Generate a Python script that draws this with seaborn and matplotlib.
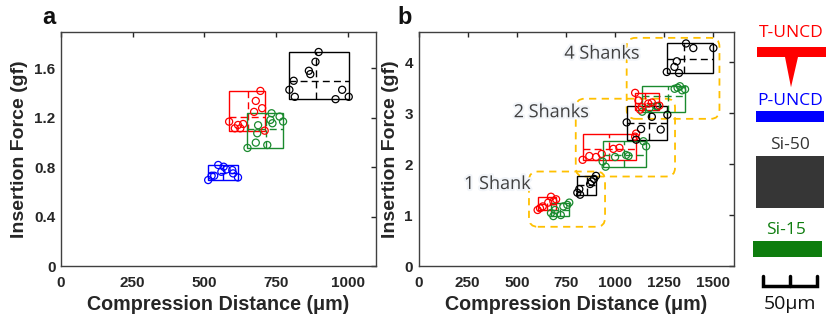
import numpy as np
import matplotlib
matplotlib.use("Agg")
import matplotlib.pyplot as plt
import seaborn as sns
from matplotlib.patches import Rectangle, FancyBboxPatch, Polygon
import matplotlib.patheffects as pe

sns.set_style("white")
plt.rcParams["font.family"] = ["Liberation Sans", "DejaVu Sans"]

# ---------------- colours ----------------
C_T = "#ff0000"      # T-UNCD
C_P = "#0000ff"      # P-UNCD
C_50 = "#000000"     # Si-50
C_15 = "#1a8a2e"     # Si-15
TXT = "#262626"

# ---------------- panel a data ----------------
a_tuncd_x = [586, 606, 617, 625, 635, 673, 679, 695, 701, 710]
a_tuncd_y = [1.169, 1.115, 1.142, 1.115, 1.150, 1.248, 1.337, 1.418, 1.278, 1.096]
a_puncd_x = [513, 525, 534, 548, 559, 567, 577, 597, 600, 617]
a_puncd_y = [0.696, 0.731, 0.731, 0.818, 0.763, 0.804, 0.782, 0.777, 0.750, 0.717]
a_si50_x = [796, 811, 815, 864, 869, 887, 898, 957, 980, 1003]
a_si50_y = [1.427, 1.500, 1.370, 1.581, 1.554, 1.654, 1.733, 1.351, 1.427, 1.370]
a_si15_x = [650, 679, 684, 687, 719, 730, 734, 737, 762, 774]
a_si15_y = [0.956, 0.999, 1.075, 1.140, 0.980, 1.183, 1.237, 1.156, 1.210, 1.170]

# ---------------- panel b data ----------------
# 1 shank
b1_tuncd_x = [606, 618, 632, 660, 674, 686, 700]
b1_tuncd_y = [1.10, 1.135, 1.17, 1.245, 1.36, 1.27, 1.31]
b1_si15_x = [674, 686, 695, 724, 737, 757, 767]
b1_si15_y = [1.04, 0.98, 1.10, 1.00, 1.17, 1.20, 1.245]
b1_si50_x = [808, 822, 818, 873, 881, 893, 903]
b1_si50_y = [1.44, 1.40, 1.51, 1.61, 1.66, 1.71, 1.77]
# 2 shanks
b2_tuncd_x = [835, 869, 903, 932, 991, 1022, 1102, 1107]
b2_tuncd_y = [2.085, 2.16, 2.14, 2.20, 2.30, 2.32, 2.54, 2.60]
b2_si15_x = [937, 952, 1000, 1056, 1068, 1144, 1158]
b2_si15_y = [2.05, 1.95, 2.14, 2.18, 2.16, 2.45, 2.35]
b2_si50_x = [1059, 1107, 1132, 1187, 1232, 1266, 1215]
b2_si50_y = [2.82, 2.48, 2.69, 2.93, 2.68, 2.97, 3.14]
# 4 shanks
b4_tuncd_x = [1102, 1119, 1127, 1169, 1187, 1225, 1136]
b4_tuncd_y = [3.40, 3.25, 3.07, 3.19, 3.21, 3.15, 3.12]
b4_si15_x = [1138, 1175, 1210, 1303, 1318, 1330, 1341, 1356]
b4_si15_y = [3.03, 3.10, 3.14, 3.48, 3.50, 3.53, 3.45, 3.47]
b4_si50_x = [1263, 1302, 1314, 1325, 1361, 1398, 1500]
b4_si50_y = [3.81, 3.91, 4.02, 3.79, 4.37, 4.28, 4.28]

# group annotation regions (x0, x1, y0, y1) and labels
group_labels = ["1 Shank", "2 Shanks", "4 Shanks"]
group_label_pos = [(400, 1.61), (674, 3.02), (932, 4.17)]
group_regions = [(562, 949, 0.77, 1.855), (800, 1305, 1.757, 3.285), (1059, 1531, 2.89, 4.48)]

# ticks
a_xticks = [0, 250, 500, 750, 1000]
a_yticks = [0, 0.4, 0.8, 1.2, 1.6]
a_yticklabels = ["0", "0.4", "0.8", "1.2", "1.6"]
b_xticks = [0, 250, 500, 750, 1000, 1250, 1500]
b_yticks = [0, 1, 2, 3, 4]

legend_labels = ["T-UNCD", "P-UNCD", "Si-50", "Si-15"]

W, H = 826, 322
fig = plt.figure(figsize=(W / 100, H / 100), dpi=100)


def px_axes(l, r, t, b):
    return fig.add_axes([l / W, 1 - b / H, (r - l) / W, (b - t) / H])


axa = px_axes(61, 376, 32, 266)
axb = px_axes(418.5, 734, 32, 266)


def draw_group(ax, x, y, color):
    x = np.asarray(x, float)
    y = np.asarray(y, float)
    sns.scatterplot(x=x, y=y, ax=ax, marker="o", s=26, color=color,
                    facecolor="none", edgecolor=color, linewidth=0.9,
                    legend=False, zorder=4)
    x0, x1, y0, y1 = x.min(), x.max(), y.min(), y.max()
    ax.add_patch(Rectangle((x0, y0), x1 - x0, y1 - y0, fill=False,
                           edgecolor=color, lw=1.0, zorder=3))
    ax.plot([x.mean()] * 2, [y0, y1], color=color, lw=1.0,
            ls=(0, (5, 3)), zorder=3)
    ax.plot([x0, x1], [y.mean()] * 2, color=color, lw=1.0,
            ls=(0, (5, 3)), zorder=3)


# panel a
draw_group(axa, a_puncd_x, a_puncd_y, C_P)
draw_group(axa, a_tuncd_x, a_tuncd_y, C_T)
draw_group(axa, a_si15_x, a_si15_y, C_15)
draw_group(axa, a_si50_x, a_si50_y, C_50)
axa.set_xlim(0, 1098)
axa.set_ylim(0, 1.895)
axa.set_xticks(a_xticks)
axa.set_yticks(a_yticks)
axa.set_yticklabels(a_yticklabels)

# panel b
for xs, ys, c in [(b1_tuncd_x, b1_tuncd_y, C_T), (b1_si15_x, b1_si15_y, C_15),
                  (b1_si50_x, b1_si50_y, C_50),
                  (b2_tuncd_x, b2_tuncd_y, C_T), (b2_si15_x, b2_si15_y, C_15),
                  (b2_si50_x, b2_si50_y, C_50),
                  (b4_si15_x, b4_si15_y, C_15), (b4_tuncd_x, b4_tuncd_y, C_T),
                  (b4_si50_x, b4_si50_y, C_50)]:
    draw_group(axb, xs, ys, c)
axb.set_xlim(0, 1605)
axb.set_ylim(0, 4.595)
axb.set_xticks(b_xticks)
axb.set_yticks(b_yticks)

# ratio of pixel scales for rounded corners
xs_px = 315.5 / 1605.0
ys_px = 234.0 / 4.595
for (x0, x1, y0, y1) in group_regions:
    axb.add_patch(FancyBboxPatch((x0, y0), x1 - x0, y1 - y0,
                                 boxstyle="round,pad=0,rounding_size=45",
                                 mutation_aspect=xs_px / ys_px,
                                 fill=False, edgecolor="#ffc000", lw=1.3,
                                 ls=(0, (4, 3)), zorder=2))
for lab, (tx, ty) in zip(group_labels, group_label_pos):
    axb.text(tx, ty, lab, ha="center", va="center", fontsize=13,
             family=["Open Sans"], color="#404040", zorder=5,
             path_effects=[pe.withStroke(linewidth=3, foreground="#f2f5f9")])

ylab_x = {axa: (19.7 - 61) / 315.0, axb: (390.5 - 418.5) / 315.5}
for ax in (axa, axb):
    ax.tick_params(direction="in", length=3.5, width=1, top=True, right=True,
                   labelsize=11, colors=TXT, pad=4)
    ax.tick_params(axis="x", pad=7)
    for sp in ax.spines.values():
        sp.set_color("#404040")
        sp.set_linewidth(1.0)
    for lbl in ax.get_xticklabels() + ax.get_yticklabels():
        lbl.set_fontweight("bold")
    ax.set_xlabel("Compression Distance (\u03bcm)", fontsize=14.2,
                  fontweight="bold", color=TXT, va="center")
    ax.set_ylabel("Insertion Force (gf)", fontsize=14, fontweight="bold",
                  color=TXT, va="center")
    ax.xaxis.set_label_coords(0.5, (266 - 305) / 234.0)
    ax.yaxis.set_label_coords(ylab_x[ax], 0.5)

fig.text(49 / W, 1 - 17 / H, "a", ha="center", va="center", fontsize=17,
         fontweight="bold", color="#111111")
fig.text(405 / W, 1 - 17 / H, "b", ha="center", va="center", fontsize=17,
         fontweight="bold", color="#111111")

# ---------------- schematic legend (pixel coordinates) ----------------
lax = fig.add_axes([0, 0, 1, 1], zorder=-1)
lax.set_xlim(0, W)
lax.set_ylim(H, 0)
lax.axis("off")
leg_colors = [C_T, C_P, "#333333", "#0e7d0e"]
leg_text_y = [33, 100.5, 144.5, 230]
leg_text_x = [791, 790, 790, 786]
for lab, c, tx, ty in zip(legend_labels, leg_colors, leg_text_x, leg_text_y):
    lax.text(tx, ty, lab, ha="center", va="center", fontsize=12.5,
             family=["Open Sans"], color=c)
lax.add_patch(Rectangle((756.7, 47.3), 70, 10, color=C_T, lw=0))
lax.add_patch(Polygon([(785, 57), (798, 57), (791, 87.3)], closed=True,
                      color=C_T, lw=0))
lax.add_patch(Rectangle((756, 111), 68, 10.7, color=C_P, lw=0))
lax.add_patch(Rectangle((756, 155.7), 68, 52.6, color="#363636", lw=0))
lax.add_patch(Rectangle((752.7, 241), 69, 16, color="#0e7d0e", lw=0))
lax.plot([763, 763, 817, 817], [276, 286, 286, 276], color="black", lw=2.5,
         solid_joinstyle="miter")
lax.plot([790, 790], [276, 286], color="black", lw=2.5)
lax.text(790, 304, "50\u03bcm", ha="center", va="center", fontsize=14,
         family=["Open Sans", "DejaVu Sans"], color="#111111")

fig.savefig("out.png", dpi=100)
